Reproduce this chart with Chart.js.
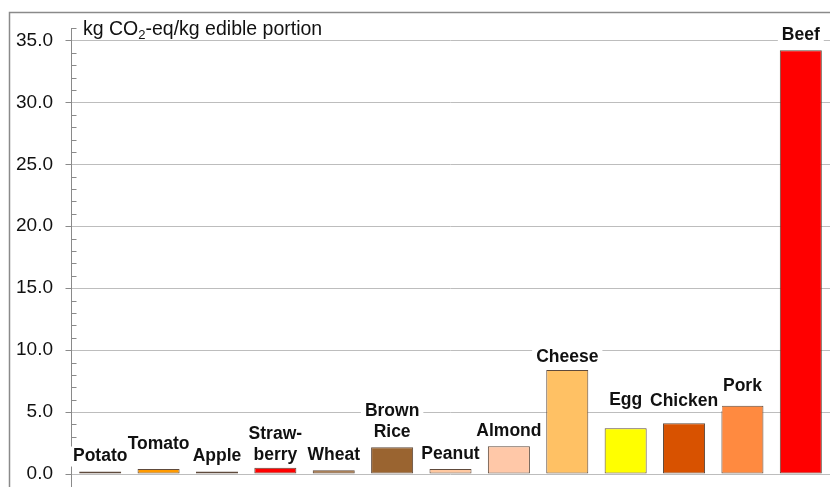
<!DOCTYPE html>
<html>
<head>
<meta charset="utf-8">
<script src="https://cdn.jsdelivr.net/npm/chart.js@4/dist/chart.umd.min.js"></script>
<style>
  html, body { margin: 0; padding: 0; background: #fff; overflow: hidden; }
  #wrap { position: relative; width: 830px; height: 487px; }
</style>
</head>
<body>
<div id="wrap"><canvas id="foodChart"></canvas></div>
<script>
// Data
const foods = ['Potato', 'Tomato', 'Apple', 'Straw-\nberry', 'Wheat', 'Brown\nRice', 'Peanut', 'Almond', 'Cheese', 'Egg', 'Chicken', 'Pork', 'Beef'];
const emissions = [0.2, 0.4, 0.2, 0.5, 0.3, 2.15, 0.4, 2.25, 8.4, 3.7, 4.1, 5.5, 34.2];
const yTickLabels = ['0.0', '5.0', '10.0', '15.0', '20.0', '25.0', '30.0', '35.0'];
const unitLabel = ['kg CO', '2', '-eq/kg edible portion'];

const barColors = ['#F2940C', '#FF9A00', '#9CCC38', '#FF0000', '#9A6430', '#9A6430', '#FFC8A0', '#FFC8A8', '#FFC164', '#FFFF00', '#D85200', '#FF8A40', '#FF0000'];

// extra lift (px) for labels that were staggered in the original
const labelLift = { 'Tomato': 10, 'Egg': 13, 'Chicken': 7, 'Pork': 5, 'Cheese': -2, 'Straw-\nberry': -2 };

const FONT = "'Liberation Sans', Arial, sans-serif";

const decorations = {
    id: 'decorations',
    beforeDraw(chart) {
        const c = chart.ctx;
        c.save();
        c.fillStyle = '#fff';
        c.fillRect(0, 0, chart.width, chart.height);
        // outer frame
        c.strokeStyle = '#8a8a8a';
        c.lineWidth = 1.5;
        c.strokeRect(9.5, 12.5, chart.width + 20, chart.height + 20);
        c.restore();
    },
    afterDatasetsDraw(chart) {
        const c = chart.ctx;
        const y = chart.scales.y;
        const area = chart.chartArea;
        const ax = Math.round(area.left) + 0.5;
        c.save();
        // y axis line + tick marks
        c.strokeStyle = '#8a8a8a';
        c.lineWidth = 1;
        c.beginPath();
        c.moveTo(ax, area.top);
        c.lineTo(ax, chart.height);
        for (let v = 0; v <= 36; v++) {
            const py = Math.round(y.getPixelForValue(v)) + 0.5;
            if (v % 5 === 0) {
                c.moveTo(ax - 6, py);
                c.lineTo(ax, py);
            } else {
                c.moveTo(ax, py);
                c.lineTo(ax + 5, py);
            }
        }
        c.stroke();

        // bar labels: white boxes first, then text
        const meta = chart.getDatasetMeta(0);
        c.font = 'bold 17.5px ' + FONT;
        c.textAlign = 'center';
        c.textBaseline = 'middle';
        const items = [];
        meta.data.forEach((bar, i) => {
            const lines = foods[i].split('\n');
            const lift = labelLift[foods[i]] || 0;
            const lastY = bar.y - 15 - lift;
            lines.forEach((txt, k) => {
                items.push({ txt, x: bar.x, y: lastY - (lines.length - 1 - k) * 21 });
            });
        });
        c.fillStyle = '#fff';
        items.forEach(it => {
            const w = c.measureText(it.txt).width;
            c.fillRect(it.x - w / 2 - 4, it.y - 10, w + 8, 20);
        });
        c.fillStyle = '#111';
        items.forEach(it => c.fillText(it.txt, it.x, it.y));

        // unit label with subscript
        c.textAlign = 'left';
        c.textBaseline = 'alphabetic';
        let tx = 83;
        const base = 35;
        c.font = '19.5px ' + FONT;
        c.fillText(unitLabel[0], tx, base);
        tx += c.measureText(unitLabel[0]).width;
        c.font = '13px ' + FONT;
        c.fillText(unitLabel[1], tx, base + 4);
        tx += c.measureText(unitLabel[1]).width;
        c.font = '19.5px ' + FONT;
        c.fillText(unitLabel[2], tx, base);
        c.restore();
    }
};

const ctx = document.getElementById('foodChart').getContext('2d');

new Chart(ctx, {
    type: 'bar',
    data: {
        labels: foods,
        datasets: [{
            data: emissions,
            backgroundColor: barColors,
            borderColor: '#5e4a3c',
            borderWidth: 1,
            borderSkipped: false,
            barPercentage: 0.72,
            categoryPercentage: 1.0
        }]
    },
    options: {
        responsive: true,
        maintainAspectRatio: false,
        animation: false,
        layout: { padding: { top: 28, right: 0, bottom: 13, left: 0 } },
        plugins: {
            legend: { display: false },
            tooltip: { enabled: false }
        },
        scales: {
            x: {
                display: false,
                offset: true
            },
            y: {
                min: 0,
                max: 36,
                afterFit(scale) {
                    scale.width = 71;
                    scale.paddingTop = 0;
                    scale.paddingBottom = 0;
                },
                border: { display: false },
                grid: {
                    drawTicks: false,
                    color: (c) => (c.tick && c.tick.value % 5 === 0) ? '#bdbdbd' : 'rgba(0,0,0,0)',
                    lineWidth: 1
                },
                ticks: {
                    stepSize: 1,
                    autoSkip: false,
                    padding: 18,
                    color: '#111',
                    font: { family: FONT, size: 19 },
                    callback: (v) => (v % 5 === 0 ? yTickLabels[v / 5] : '')
                }
            }
        }
    },
    plugins: [decorations]
});
</script>
</body>
</html>
